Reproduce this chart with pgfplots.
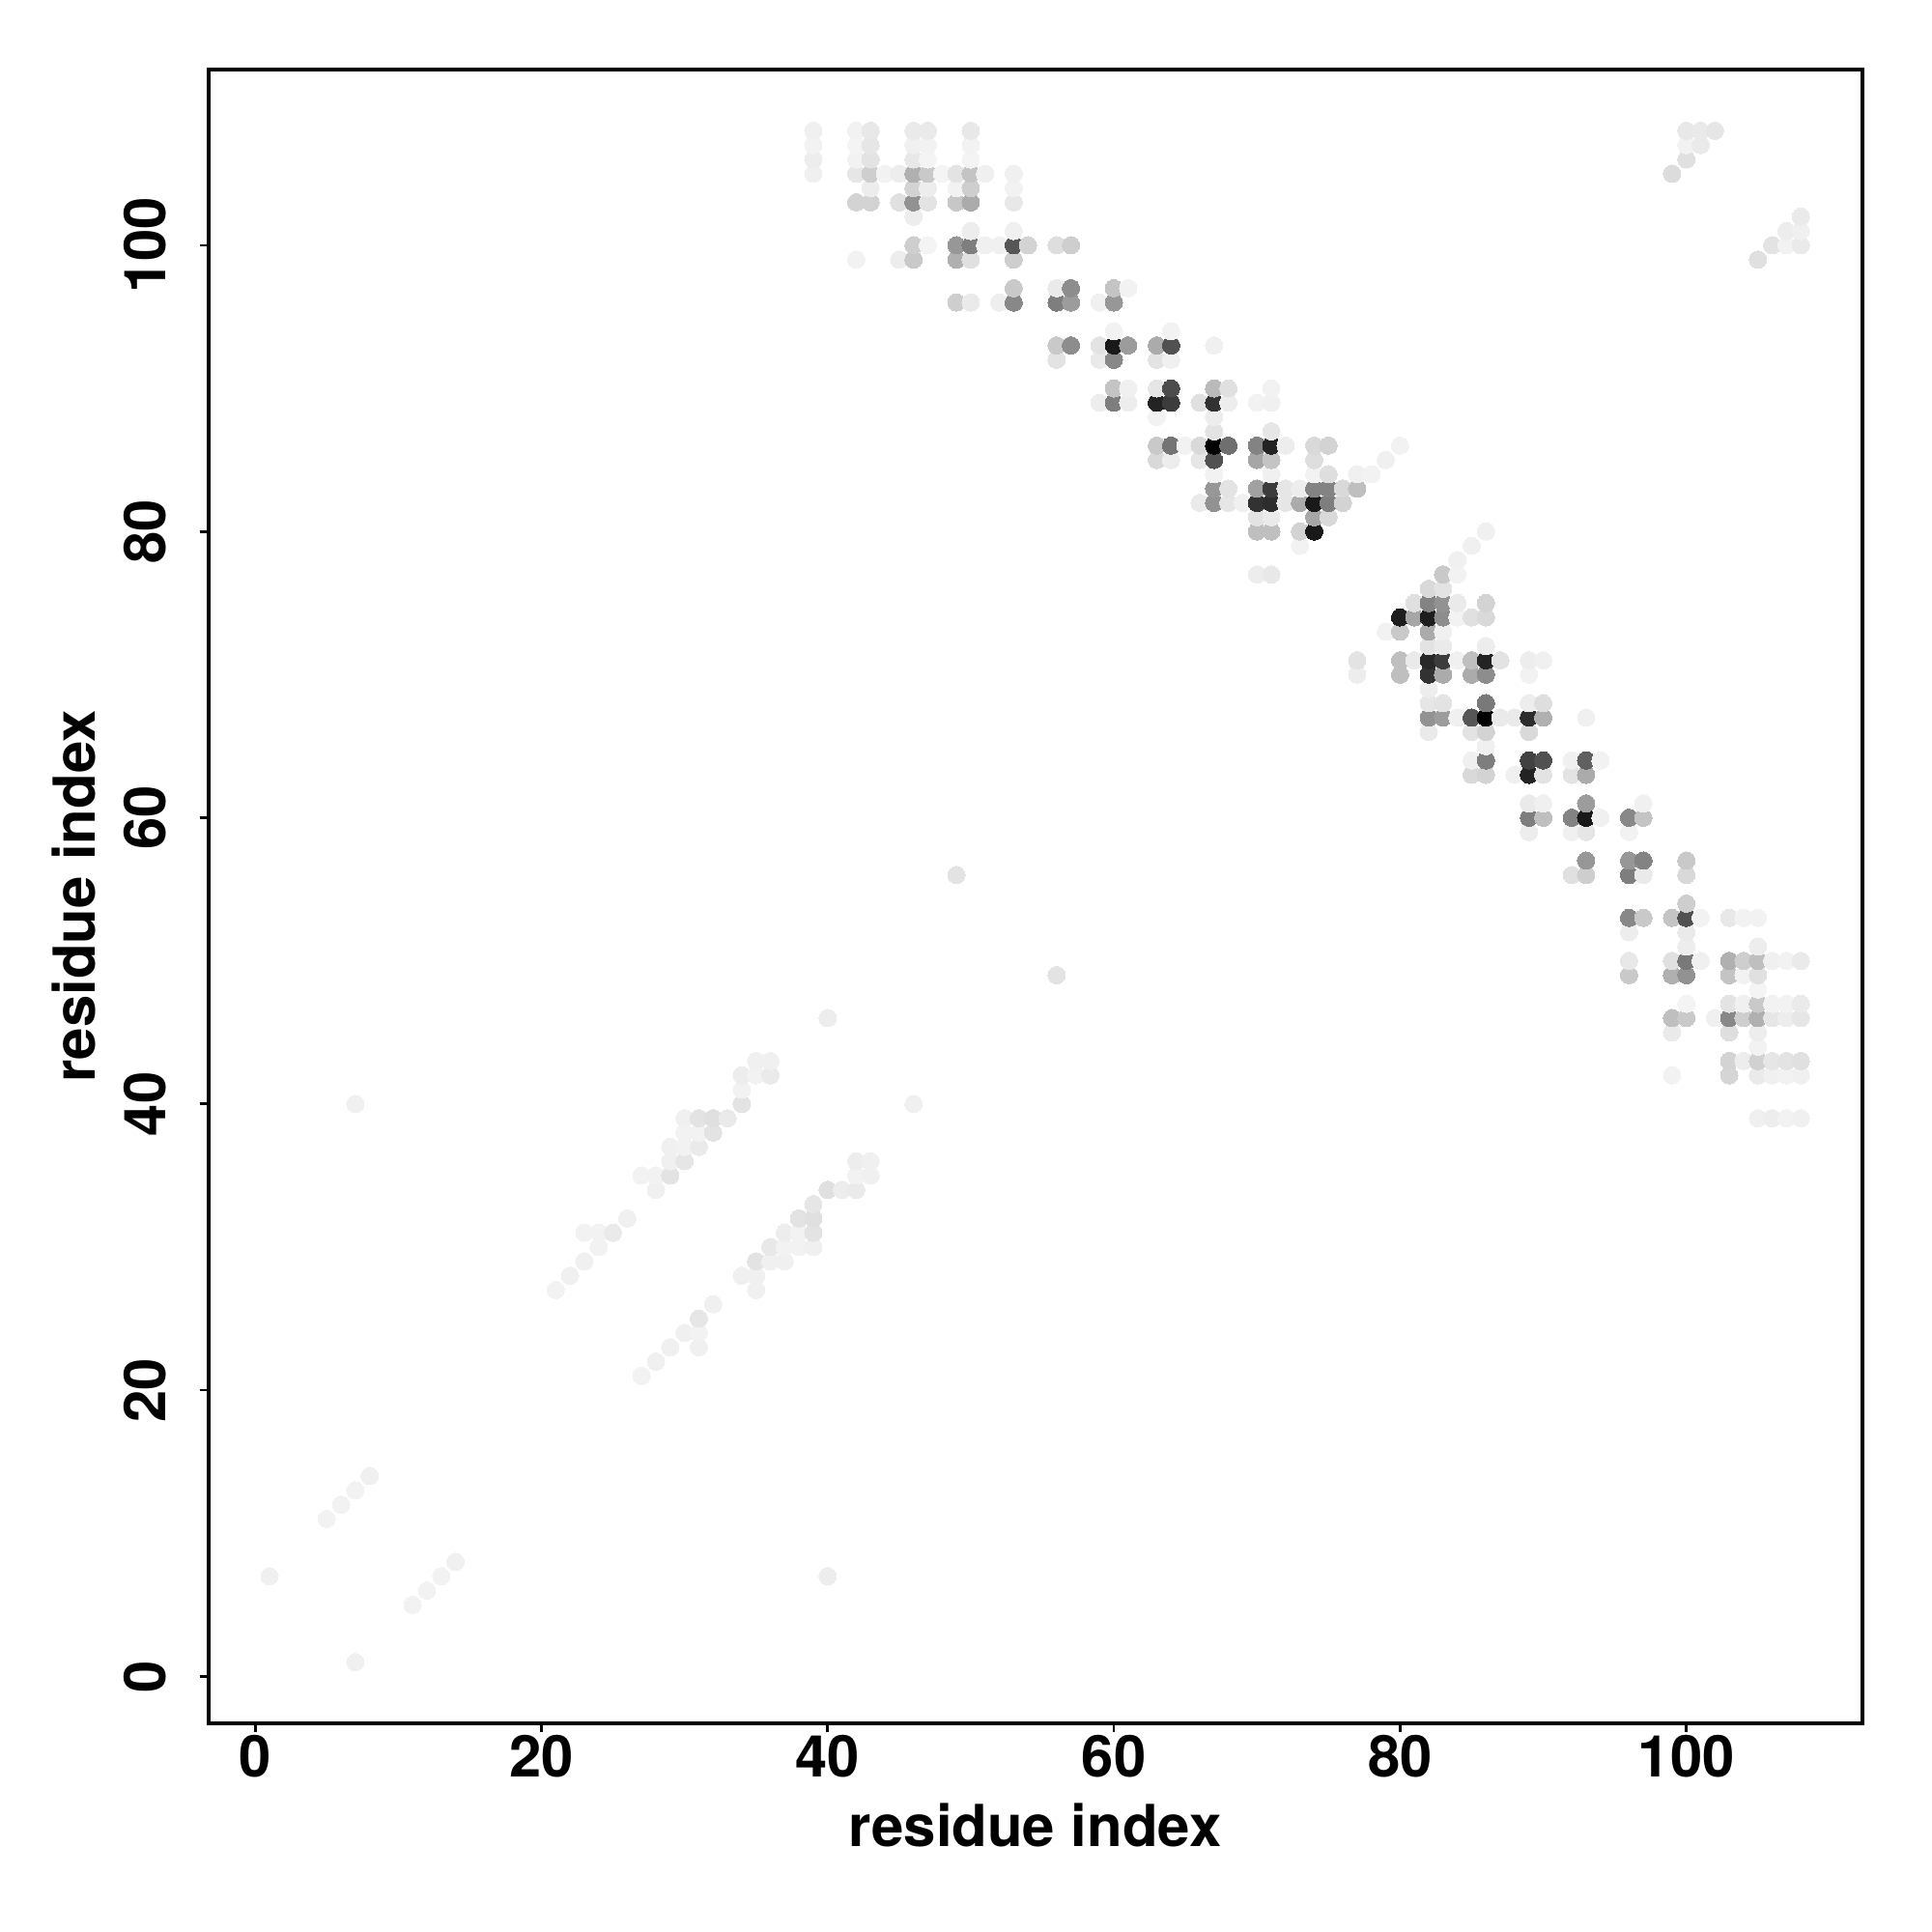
\documentclass[border=0pt]{standalone}
\usepackage{pgfplots}
\pgfplotsset{compat=1.18}
\usepackage{fontspec}
\setmainfont{TeX Gyre Heros}
\begin{document}
\begin{tikzpicture}
\path[use as bounding box] (0,0) rectangle (200mm,200mm);
\begin{axis}[
  at={(21.56mm,21.6mm)},anchor=south west,
  width=171.2mm,height=171.2mm,scale only axis,
  xmin=-3.28,xmax=112.28,ymin=-3.28,ymax=112.28,
  xtick={0,20,40,60,80,100},ytick={0,20,40,60,80,100},
  tick align=outside,
  every tick/.style={black,line width=0.75pt},
  major tick length=0.9mm,
  tick pos=lower,
  /pgf/number format/assume math mode=true,
  ticklabel style={font=\fontsize{17}{17}\selectfont\bfseries},
  xticklabel style={anchor=north,yshift=2.6pt},
  yticklabel style={rotate=90,anchor=south,yshift=6.4pt},
  xlabel={residue index},ylabel={residue index},
  xlabel style={font=\fontsize{17.05}{17}\selectfont\bfseries,at={(axis description cs:0.5,-0.0616)},anchor=center},
  ylabel style={font=\fontsize{17.05}{17}\selectfont\bfseries,at={(axis description cs:-0.081,0.5)},anchor=center,rotate=0},
  colormap={bw}{gray(0cm)=(0); gray(1cm)=(1)},
  point meta min=0,point meta max=255,
  axis line style={line width=1.1pt},
]
\addplot[scatter,only marks,mark=*,mark size=0.9mm,
  scatter/use mapped color={draw=mapped color,fill=mapped color,line width=0pt},
  point meta=explicit] table[meta=g] {
x y g
1 7 238
5 11 240
6 12 240
7 1 238
7 13 240
7 40 238
8 14 238
11 5 240
12 6 240
13 7 240
14 8 238
21 27 240
22 28 238
23 29 238
23 31 240
24 30 240
24 31 240
25 31 232
26 32 238
27 21 240
27 35 240
28 22 238
28 34 238
28 35 240
29 23 238
29 35 225
29 36 238
29 37 238
30 24 238
30 36 228
30 37 240
30 38 240
30 39 238
31 23 238
31 24 240
31 25 228
31 37 232
31 38 240
31 39 225
32 26 238
32 38 225
32 39 222
33 39 232
34 28 238
34 40 225
34 41 240
34 42 235
35 27 238
35 28 238
35 29 225
35 42 240
35 43 238
36 29 238
36 30 230
36 42 232
36 43 238
37 29 238
37 30 240
37 31 235
38 30 240
38 31 240
38 32 225
39 30 238
39 31 225
39 32 222
39 33 228
39 105 238
39 106 235
39 107 240
39 108 238
40 7 235
40 34 222
40 46 235
41 34 235
42 34 232
42 35 240
42 36 235
42 99 240
42 103 210
42 105 228
42 106 240
42 107 242
42 108 240
43 35 238
43 36 238
43 103 210
43 104 235
43 105 205
43 106 225
43 107 228
43 108 230
44 105 240
45 99 235
45 103 222
45 105 235
46 40 238
46 99 200
46 100 205
46 102 235
46 103 145
46 104 210
46 105 175
46 106 230
46 107 238
46 108 232
47 100 242
47 103 225
47 104 235
47 105 200
47 106 242
47 107 240
47 108 232
48 105 242
49 56 225
49 96 205
49 99 175
49 100 150
49 103 198
49 104 240
49 105 225
50 96 232
50 99 222
50 100 125
50 101 235
50 103 170
50 104 205
50 105 195
50 106 242
50 107 240
50 108 230
51 100 238
51 105 238
52 96 236
52 100 238
53 96 135
53 97 200
53 99 205
53 100 85
53 101 238
53 103 230
53 104 240
53 105 238
54 100 210
56 49 225
56 92 225
56 93 200
56 96 125
56 97 232
56 100 220
57 93 140
57 96 155
57 97 140
57 100 205
59 89 235
59 92 232
59 93 225
59 96 238
60 89 125
60 90 195
60 92 135
60 93 25
60 94 240
60 96 150
60 97 195
61 89 235
61 90 238
61 93 155
61 97 240
63 85 215
63 86 200
63 88 240
63 89 35
63 90 228
63 92 225
63 93 170
64 85 235
64 86 115
64 89 60
64 90 75
64 92 238
64 93 80
64 94 240
65 86 240
66 82 232
66 85 228
66 86 215
66 89 222
67 82 145
67 83 150
67 84 240
67 85 80
67 86 0
67 87 225
67 88 235
67 89 50
67 90 185
67 93 238
68 82 228
68 83 225
68 86 110
68 89 235
68 90 222
69 82 238
70 77 235
70 80 190
70 81 225
70 82 50
70 83 160
70 85 165
70 86 130
70 89 240
71 77 230
71 80 190
71 81 232
71 82 45
71 83 60
71 84 238
71 85 195
71 86 35
71 87 228
71 89 238
71 90 240
72 82 228
72 83 228
72 86 235
73 79 240
73 80 210
73 82 170
73 83 235
74 80 25
74 81 165
74 82 25
74 83 130
74 84 240
74 85 220
74 86 215
75 81 215
75 82 125
75 83 130
75 84 220
75 86 210
76 82 210
76 83 215
77 70 235
77 71 225
77 83 190
77 84 238
78 84 240
79 73 240
79 85 238
80 70 190
80 71 190
80 73 200
80 74 30
80 86 240
81 71 232
81 74 165
81 75 222
82 66 232
82 67 145
82 68 228
82 69 235
82 70 50
82 71 40
82 72 225
82 73 170
82 74 30
82 75 130
82 76 215
83 67 155
83 68 225
83 70 170
83 71 60
83 72 232
83 73 238
83 74 140
83 75 145
83 76 225
83 77 200
84 67 238
84 71 238
84 74 240
84 75 232
84 77 240
84 78 238
85 63 215
85 64 238
85 66 225
85 67 85
85 70 170
85 71 190
85 74 222
85 79 238
86 63 210
86 64 125
86 65 238
86 66 210
86 67 0
86 68 120
86 70 140
86 71 35
86 72 235
86 74 215
86 75 210
86 80 238
87 67 232
87 71 225
88 63 238
88 67 232
89 59 235
89 60 125
89 61 232
89 63 35
89 64 65
89 66 215
89 67 45
89 68 235
89 70 240
89 71 235
90 60 190
90 61 238
90 63 225
90 64 80
90 67 175
90 68 220
90 71 238
92 56 222
92 59 238
92 60 130
92 63 225
92 64 238
93 56 205
93 57 150
93 59 228
93 60 25
93 61 155
93 63 170
93 64 95
93 67 238
94 60 238
94 64 240
96 49 200
96 50 230
96 52 235
96 53 135
96 56 125
96 57 150
96 59 240
96 60 135
97 53 200
97 56 232
97 57 130
97 60 195
97 61 238
99 42 240
99 45 232
99 46 190
99 49 175
99 50 222
99 53 195
99 105 218
100 46 200
100 47 242
100 49 145
100 50 120
100 51 235
100 52 232
100 53 80
100 54 205
100 56 215
100 57 200
100 106 222
100 107 240
100 108 230
101 50 238
101 53 240
101 107 232
101 108 232
102 46 238
102 108 228
103 42 212
103 43 210
103 45 220
103 46 135
103 47 225
103 49 195
103 50 175
103 53 230
104 43 235
104 46 205
104 47 238
104 49 240
104 50 205
104 53 240
105 39 238
105 42 232
105 43 208
105 44 240
105 45 235
105 46 175
105 47 200
105 48 242
105 49 222
105 50 190
105 51 235
105 53 240
105 99 222
106 39 235
106 42 238
106 43 228
106 46 228
106 47 240
106 50 238
106 100 225
107 39 240
107 42 240
107 43 225
107 46 235
107 47 240
107 50 240
107 100 240
107 101 235
108 39 238
108 42 238
108 43 222
108 46 228
108 47 232
108 50 232
108 100 232
108 101 238
108 102 232
};
\end{axis}
\end{tikzpicture}
\end{document}
